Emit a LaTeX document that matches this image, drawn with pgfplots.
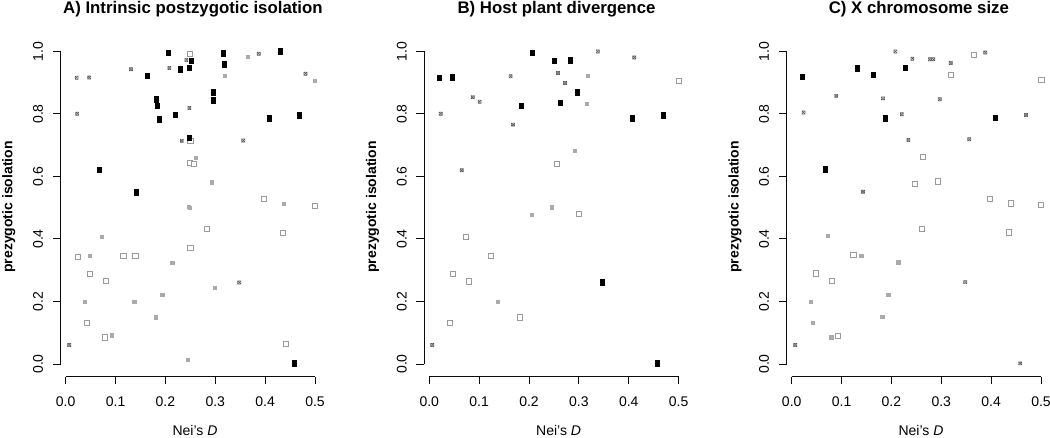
\documentclass[border=0pt]{standalone}
\usepackage{fontspec}
\setmainfont{Liberation Sans}
\usepackage{pgfplots}
\pgfplotsset{compat=1.18}
\definecolor{grayfill}{RGB}{170,170,170}
\definecolor{opengray}{RGB}{155,155,155}
\definecolor{crossgray}{RGB}{85,85,85}
\definecolor{axblack}{RGB}{10,10,10}
\pgfdeclareplotmark{blk}{\pgfpathrectangle{\pgfpoint{-2.5pt}{-3.2pt}}{\pgfpoint{5pt}{6.4pt}}\pgfusepathqfill}
\pgfdeclareplotmark{gry}{\pgfpathrectangle{\pgfpoint{-2.1pt}{-2.1pt}}{\pgfpoint{4.2pt}{4.2pt}}\pgfusepathqfill}
\pgfdeclareplotmark{opn}{\pgfpathrectangle{\pgfpoint{-2.6pt}{-2.6pt}}{\pgfpoint{5.2pt}{5.2pt}}\pgfusepathqfillstroke}
\pgfdeclareplotmark{crs}{\pgfpathrectangle{\pgfpoint{-1.6pt}{-1.6pt}}{\pgfpoint{3.2pt}{3.2pt}}\pgfpathmoveto{\pgfpoint{-1.6pt}{-1.6pt}}\pgfpathlineto{\pgfpoint{1.6pt}{1.6pt}}\pgfpathmoveto{\pgfpoint{-1.6pt}{1.6pt}}\pgfpathlineto{\pgfpoint{1.6pt}{-1.6pt}}\pgfusepathqstroke}
\pgfplotsset{
  panel/.style={
    scale only axis, width=264.3pt, height=337.5pt,
    anchor=south west,
    xmin=-0.01, xmax=0.52, ymin=-0.04, ymax=1.04,
    clip=false, axis lines=none,
  },
  blk/.style={only marks, mark=blk, black},
  gry/.style={only marks, mark=gry, grayfill},
  opn/.style={only marks, mark=opn, mark options={draw=opengray, fill=white, line width=0.9pt}},
  crs/.style={only marks, mark=crs, mark options={draw=crossgray, line width=0.45pt}},
}
% tick labels, R style (498.68pt per x unit, 312.5pt per y unit)
\newcommand{\rlabels}[1]{%
  \begin{scope}[shift={(#1,73pt)}, x=498.68pt, y=312.5pt]
  \foreach \v in {0.0,0.1,0.2,0.3,0.4,0.5} {
    \node[anchor=base, inner sep=0pt, font=\fontsize{14}{14}\selectfont] at ([yshift=-30pt]\v,-0.04) {\v};}
  \foreach \v in {0.0,0.2,0.4,0.6,0.8,1.0} {
    \node[rotate=90, anchor=south, inner sep=0pt, font=\fontsize{14}{14}\selectfont] at ([xshift=-17.4pt]-0.01,\v) {\v};}
  \end{scope}}
\begin{document}
\begin{tikzpicture}
\path[use as bounding box] (0,0) rectangle (1050pt,437pt);
% ---------- axis lines and ticks (drawn first), panel A
\draw[draw=axblack, line width=1pt] (60.70pt,73pt) -- (60.70pt,385.5pt);
\draw[draw=axblack, line width=1pt] (65.69pt,60.5pt) -- (315.03pt,60.5pt);
\draw[draw=axblack, line width=1pt] (65.69pt,60.5pt) -- (65.69pt,53pt);
\draw[draw=axblack, line width=1pt] (115.56pt,60.5pt) -- (115.56pt,53pt);
\draw[draw=axblack, line width=1pt] (165.43pt,60.5pt) -- (165.43pt,53pt);
\draw[draw=axblack, line width=1pt] (215.29pt,60.5pt) -- (215.29pt,53pt);
\draw[draw=axblack, line width=1pt] (265.16pt,60.5pt) -- (265.16pt,53pt);
\draw[draw=axblack, line width=1pt] (315.03pt,60.5pt) -- (315.03pt,53pt);
\draw[draw=axblack, line width=1pt] (60.70pt,73pt) -- (52.70pt,73pt);
\draw[draw=axblack, line width=1pt] (60.70pt,135.5pt) -- (52.70pt,135.5pt);
\draw[draw=axblack, line width=1pt] (60.70pt,198pt) -- (52.70pt,198pt);
\draw[draw=axblack, line width=1pt] (60.70pt,260.5pt) -- (52.70pt,260.5pt);
\draw[draw=axblack, line width=1pt] (60.70pt,323pt) -- (52.70pt,323pt);
\draw[draw=axblack, line width=1pt] (60.70pt,385.5pt) -- (52.70pt,385.5pt);
% ---------- panel B
\draw[draw=axblack, line width=1pt] (424.30pt,73pt) -- (424.30pt,385.5pt);
\draw[draw=axblack, line width=1pt] (429.29pt,60.5pt) -- (678.63pt,60.5pt);
\draw[draw=axblack, line width=1pt] (429.29pt,60.5pt) -- (429.29pt,53pt);
\draw[draw=axblack, line width=1pt] (479.16pt,60.5pt) -- (479.16pt,53pt);
\draw[draw=axblack, line width=1pt] (529.03pt,60.5pt) -- (529.03pt,53pt);
\draw[draw=axblack, line width=1pt] (578.89pt,60.5pt) -- (578.89pt,53pt);
\draw[draw=axblack, line width=1pt] (628.76pt,60.5pt) -- (628.76pt,53pt);
\draw[draw=axblack, line width=1pt] (678.63pt,60.5pt) -- (678.63pt,53pt);
\draw[draw=axblack, line width=1pt] (424.30pt,73pt) -- (416.30pt,73pt);
\draw[draw=axblack, line width=1pt] (424.30pt,135.5pt) -- (416.30pt,135.5pt);
\draw[draw=axblack, line width=1pt] (424.30pt,198pt) -- (416.30pt,198pt);
\draw[draw=axblack, line width=1pt] (424.30pt,260.5pt) -- (416.30pt,260.5pt);
\draw[draw=axblack, line width=1pt] (424.30pt,323pt) -- (416.30pt,323pt);
\draw[draw=axblack, line width=1pt] (424.30pt,385.5pt) -- (416.30pt,385.5pt);
% ---------- panel C
\draw[draw=axblack, line width=1pt] (786.70pt,73pt) -- (786.70pt,385.5pt);
\draw[draw=axblack, line width=1pt] (791.69pt,60.5pt) -- (1041.03pt,60.5pt);
\draw[draw=axblack, line width=1pt] (791.69pt,60.5pt) -- (791.69pt,53pt);
\draw[draw=axblack, line width=1pt] (841.56pt,60.5pt) -- (841.56pt,53pt);
\draw[draw=axblack, line width=1pt] (891.43pt,60.5pt) -- (891.43pt,53pt);
\draw[draw=axblack, line width=1pt] (941.29pt,60.5pt) -- (941.29pt,53pt);
\draw[draw=axblack, line width=1pt] (991.16pt,60.5pt) -- (991.16pt,53pt);
\draw[draw=axblack, line width=1pt] (1041.03pt,60.5pt) -- (1041.03pt,53pt);
\draw[draw=axblack, line width=1pt] (786.70pt,73pt) -- (778.70pt,73pt);
\draw[draw=axblack, line width=1pt] (786.70pt,135.5pt) -- (778.70pt,135.5pt);
\draw[draw=axblack, line width=1pt] (786.70pt,198pt) -- (778.70pt,198pt);
\draw[draw=axblack, line width=1pt] (786.70pt,260.5pt) -- (778.70pt,260.5pt);
\draw[draw=axblack, line width=1pt] (786.70pt,323pt) -- (778.70pt,323pt);
\draw[draw=axblack, line width=1pt] (786.70pt,385.5pt) -- (778.70pt,385.5pt);
% ---------- Panel A
\begin{axis}[panel, at={(60.7pt,60.5pt)}]
\addplot[gry] coordinates {(0.320,0.921) (0.366,0.983) (0.500,0.906) (0.261,0.658) (0.293,0.581) (0.438,0.512) (0.247,0.502) (0.250,0.499) (0.073,0.406) (0.049,0.346) (0.214,0.324) (0.299,0.242) (0.194,0.220) (0.039,0.198) (0.138,0.199) (0.181,0.149) (0.093,0.091) (0.246,0.013)};
\addplot[opn] coordinates {(0.249,0.991) (0.250,0.715) (0.249,0.644) (0.257,0.641) (0.398,0.528) (0.500,0.506) (0.283,0.432) (0.436,0.419) (0.250,0.372) (0.025,0.342) (0.116,0.346) (0.140,0.345) (0.048,0.289) (0.080,0.265) (0.043,0.131) (0.079,0.085) (0.441,0.065)};
\addplot[crs] coordinates {(0.022,0.916) (0.047,0.917) (0.131,0.943) (0.208,0.947) (0.242,0.973) (0.387,0.993) (0.481,0.929) (0.023,0.801) (0.248,0.819) (0.233,0.714) (0.356,0.715) (0.348,0.261) (0.007,0.061)};
\addplot[blk] coordinates {(0.164,0.921) (0.207,0.996) (0.253,0.970) (0.230,0.943) (0.248,0.948) (0.317,0.994) (0.319,0.958) (0.431,1.0) (0.182,0.847) (0.185,0.825) (0.188,0.782) (0.220,0.796) (0.297,0.869) (0.297,0.843) (0.408,0.785) (0.469,0.795) (0.248,0.724) (0.067,0.620) (0.142,0.549) (0.458,0.002)};
\end{axis}
% ---------- Panel B
\begin{axis}[panel, at={(424.3pt,60.5pt)}]
\addplot[gry] coordinates {(0.319,0.921) (0.316,0.831) (0.292,0.682) (0.206,0.476) (0.246,0.501) (0.137,0.199)};
\addplot[opn] coordinates {(0.500,0.906) (0.256,0.641) (0.300,0.480) (0.073,0.406) (0.124,0.346) (0.047,0.289) (0.079,0.264) (0.181,0.149) (0.042,0.131)};
\addplot[crs] coordinates {(0.023,0.801) (0.087,0.854) (0.101,0.839) (0.163,0.921) (0.168,0.766) (0.258,0.931) (0.272,0.899) (0.338,1.0) (0.411,0.981) (0.065,0.620) (0.006,0.061)};
\addplot[blk] coordinates {(0.020,0.915) (0.046,0.917) (0.184,0.825) (0.207,0.996) (0.252,0.970) (0.284,0.971) (0.297,0.869) (0.263,0.836) (0.408,0.785) (0.469,0.795) (0.348,0.261) (0.458,0.002)};
\end{axis}
% ---------- Panel C
\begin{axis}[panel, at={(786.7pt,60.5pt)}]
\addplot[gry] coordinates {(0.073,0.409) (0.140,0.346) (0.214,0.325) (0.039,0.199) (0.194,0.221) (0.182,0.150) (0.043,0.132) (0.080,0.085)};
\addplot[opn] coordinates {(0.319,0.925) (0.264,0.662) (0.247,0.575) (0.293,0.584) (0.366,0.988) (0.501,0.910) (0.398,0.529) (0.439,0.514) (0.500,0.509) (0.262,0.433) (0.436,0.421) (0.124,0.348) (0.049,0.290) (0.080,0.266) (0.093,0.091)};
\addplot[crs] coordinates {(0.024,0.805) (0.089,0.858) (0.143,0.551) (0.183,0.850) (0.208,1.0) (0.221,0.799) (0.242,0.977) (0.234,0.717) (0.277,0.975) (0.284,0.975) (0.297,0.847) (0.319,0.963) (0.356,0.719) (0.388,0.997) (0.470,0.797) (0.348,0.262) (0.007,0.061) (0.458,0.002)};
\addplot[blk] coordinates {(0.021,0.919) (0.067,0.622) (0.131,0.946) (0.164,0.925) (0.189,0.786) (0.229,0.947) (0.408,0.788)};
\end{axis}
% ---------- tick labels
\rlabels{65.69pt}
\rlabels{429.29pt}
\rlabels{791.69pt}
% ---------- titles and labels
\begin{scope}[font=\bfseries\fontsize{16.8}{18}\selectfont]
\node[anchor=base, inner sep=0pt] at (192.9pt,423.5pt) {A) Intrinsic postzygotic isolation};
\node[anchor=base, inner sep=0pt] at (556.5pt,423.5pt) {B) Host plant divergence};
\node[anchor=base, inner sep=0pt] at (918.9pt,423.5pt) {C) X chromosome size};
\end{scope}
\begin{scope}[font=\bfseries\fontsize{14}{16}\selectfont]
\node[rotate=90, anchor=base, inner sep=0pt] at (12.5pt,230pt) {prezygotic isolation};
\node[rotate=90, anchor=base, inner sep=0pt] at (376.1pt,230pt) {prezygotic isolation};
\node[rotate=90, anchor=base, inner sep=0pt] at (738.5pt,230pt) {prezygotic isolation};
\end{scope}
\begin{scope}[font=\fontsize{14}{16}\selectfont]
\node[anchor=base, inner sep=0pt] at (195pt,2pt) {Nei's \textit{D}};
\node[anchor=base, inner sep=0pt] at (558.6pt,2pt) {Nei's \textit{D}};
\node[anchor=base, inner sep=0pt] at (921pt,2pt) {Nei's \textit{D}};
\end{scope}
\end{tikzpicture}
\end{document}
